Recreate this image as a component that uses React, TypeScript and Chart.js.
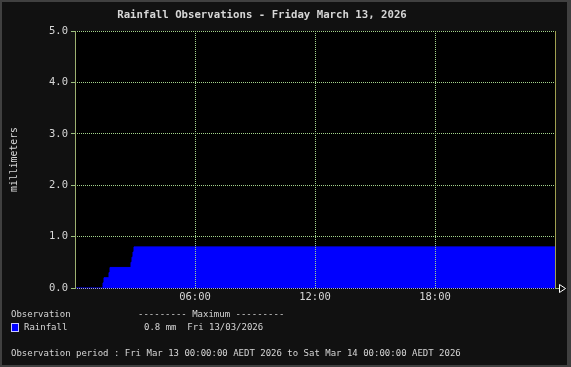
import React, { useEffect, useRef } from "react";
import { Chart, registerables } from "chart.js";

Chart.register(...registerables);

// Minutes since midnight at which the cumulative rainfall changes
const obsMinutes = [0, 84, 87, 102, 105, 168, 171, 174, 177, 1440];
// Cumulative rainfall (mm)
const rainfallMm = [0, 0.1, 0.2, 0.3, 0.4, 0.5, 0.6, 0.7, 0.8, 0.8];
const yTicks = [0, 1, 2, 3, 4, 5];
const xTickMinutes = [360, 720, 1080];
const xTickLabels = ["06:00", "12:00", "18:00"];

const titleText = "Rainfall Observations - Friday March 13, 2026";
const yAxisTitle = "millimeters";
const legendHeader = "Observation";
const legendMaxHeader = "--------- Maximum ---------";
const seriesName = "Rainfall";
const maxText = "0.8 mm  Fri 13/03/2026";
const periodText =
  "Observation period : Fri Mar 13 00:00:00 AEDT 2026 to Sat Mar 14 00:00:00 AEDT 2026";

const MONO = "'DejaVu Sans Mono', 'Liberation Mono', monospace";
const TEXT = "#d6d6d6";
const GRID = "#a4d48c";

const decorPlugin = {
  id: "decor",
  beforeDraw(chart: any) {
    const { ctx, width, height } = chart;
    ctx.save();
    ctx.fillStyle = "#404040";
    ctx.fillRect(0, 0, width, height);
    ctx.fillStyle = "#111111";
    ctx.fillRect(2, 2, 565, 363);
    const a = chart.chartArea;
    ctx.fillStyle = "#000000";
    ctx.fillRect(a.left, a.top, a.right - a.left, a.bottom - a.top);
    ctx.restore();
  },
  afterDraw(chart: any) {
    const { ctx } = chart;
    const a = chart.chartArea;
    ctx.save();
    // axis lines
    ctx.lineWidth = 1;
    ctx.strokeStyle = "#9cb070";
    ctx.beginPath();
    ctx.moveTo(Math.round(a.left) + 0.5, a.top);
    ctx.lineTo(Math.round(a.left) + 0.5, a.bottom + 1);
    ctx.stroke();
    ctx.strokeStyle = "#a0a050";
    ctx.beginPath();
    ctx.moveTo(Math.round(a.right) + 0.5, a.top);
    ctx.lineTo(Math.round(a.right) + 0.5, a.bottom);
    ctx.stroke();
    // arrow
    const yb = Math.round(a.bottom) + 0.5;
    ctx.strokeStyle = "#9cc080";
    ctx.beginPath();
    ctx.moveTo(a.right, yb);
    ctx.lineTo(a.right + 4, yb);
    ctx.stroke();
    ctx.strokeStyle = "#ffffff";
    ctx.beginPath();
    ctx.moveTo(a.right + 4.5, yb - 4);
    ctx.lineTo(a.right + 10.5, yb);
    ctx.lineTo(a.right + 4.5, yb + 4);
    ctx.closePath();
    ctx.stroke();

    // title
    ctx.fillStyle = TEXT;
    ctx.font = `bold 10.7px ${MONO}`;
    ctx.textAlign = "center";
    ctx.textBaseline = "middle";
    ctx.fillText(titleText, 262, 15.5);

    // y axis title
    ctx.save();
    ctx.translate(14, (a.top + a.bottom) / 2);
    ctx.rotate(-Math.PI / 2);
    ctx.font = `9.8px ${MONO}`;
    ctx.fillText(yAxisTitle, 0, 0);
    ctx.restore();

    // legend
    ctx.textAlign = "left";
    ctx.font = `9px ${MONO}`;
    ctx.fillText(legendHeader, 11, 315);
    ctx.fillText(legendMaxHeader, 138, 315);
    ctx.fillStyle = "#0000ff";
    ctx.fillRect(11, 323, 8, 9);
    ctx.strokeStyle = "#c8c8ff";
    ctx.strokeRect(11.5, 323.5, 7, 8);
    ctx.fillStyle = TEXT;
    ctx.fillText(seriesName, 24, 327.5);
    ctx.fillText(maxText, 144, 327.5);
    ctx.fillText(periodText, 11, 353.5);
    ctx.restore();
  },
};

export default function App() {
  const ref = useRef<HTMLCanvasElement | null>(null);
  useEffect(() => {
    document.body.style.margin = "0";
    document.body.style.background = "#111111";
    const canvas = ref.current!;
    const points = obsMinutes.map((m, i) => ({ x: m, y: rainfallMm[i] }));
    const chart = new Chart(canvas, {
      type: "line",
      data: {
        datasets: [
          {
            label: seriesName,
            data: points,
            stepped: true,
            fill: "origin",
            backgroundColor: "#0000ff",
            borderColor: "#0000ff",
            borderWidth: 1,
            pointRadius: 0,
          },
        ],
      },
      options: {
        responsive: false,
        animation: false,
        devicePixelRatio: 1,
        layout: { padding: { left: 0, top: 31, right: 16, bottom: 57 } },
        plugins: { legend: { display: false }, tooltip: { enabled: false }, title: { display: false } },
        scales: {
          x: {
            type: "linear",
            min: 0,
            max: 1440,
            afterFit: (s: any) => {
              s.height = 22;
            },
            afterBuildTicks: (s: any) => {
              s.ticks = [0, ...xTickMinutes, 1440].map((v) => ({ value: v }));
            },
            border: { display: false, dash: [1, 1] },
            grid: {
              z: 1,
              drawTicks: false,
              color: (c: any) =>
                c.tick && (c.tick.value === 0 || c.tick.value === 1440) ? "rgba(0,0,0,0)" : GRID,
            },
            ticks: {
              color: TEXT,
              font: { family: MONO, size: 10.5 },
              padding: 3,
              maxRotation: 0,
              autoSkip: false,
              callback: (v: any) => {
                const i = xTickMinutes.indexOf(Number(v));
                return i >= 0 ? xTickLabels[i] : "";
              },
            },
          },
          y: {
            min: 0,
            max: 5,
            afterFit: (s: any) => {
              s.width = 75;
            },
            afterBuildTicks: (s: any) => {
              s.ticks = yTicks.map((v) => ({ value: v }));
            },
            border: { display: false, dash: [1, 1] },
            grid: {
              z: 1,
              tickLength: 4,
              tickBorderDash: [],
              tickColor: "#9cc080",
              color: (c: any) => (c.tick && c.tick.value === 0 ? "#9a9aff" : GRID),
            },
            ticks: {
              color: TEXT,
              font: { family: MONO, size: 10.5 },
              padding: 3,
              callback: (v: any) => Number(v).toFixed(1),
            },
          },
        },
      },
      plugins: [decorPlugin],
    });
    return () => chart.destroy();
  }, []);
  return <canvas ref={ref} width={571} height={367} style={{ display: "block" }} />;
}
